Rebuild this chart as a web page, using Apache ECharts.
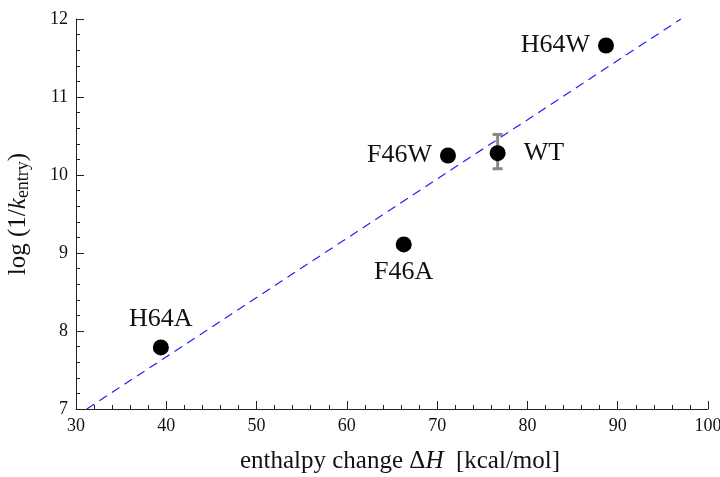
<!DOCTYPE html>
<html>
<head>
<meta charset="utf-8">
<script src="https://cdn.jsdelivr.net/npm/echarts@6/dist/echarts.min.js"></script>
<style>
  html, body { margin: 0; padding: 0; background: #fff; }
  #chart { width: 720px; height: 477px; }
</style>
</head>
<body>
<div id="chart"></div>
<script>
// mutants, enthalpy change (kcal/mol) and log(1/k_entry)
var names = ["H64A", "F46A", "F46W", "WT", "H64W"];
var deltaH = [39.4, 66.3, 71.2, 76.7, 88.7];
var logK = [7.79, 9.11, 10.25, 10.28, 11.66];

// error bar on WT only
var errName = ["WT"];
var errLow = [10.08];
var errHigh = [10.52];

// fitted dashed line endpoints
var fitX = [31.2, 97.0];
var fitY = [7.0, 12.0];

var serif = "Liberation Serif";
var labelPos = { H64A: "top", F46A: "bottom", F46W: "left", WT: "right", H64W: "left" };
var labelDist = { H64A: 7, F46A: 7, F46W: 8, WT: 18, H64W: 8 };

var chart = echarts.init(document.getElementById("chart"));

var pts = names.map(function (n, i) {
  return {
    value: [deltaH[i], logK[i]],
    name: n,
    label: { position: labelPos[n], distance: labelDist[n] }
  };
});

var errData = errName.map(function (n, j) {
  var i = names.indexOf(n);
  return [deltaH[i], errLow[j], errHigh[j]];
});

var option = {
  animation: false,
  grid: { left: 76, right: 12, top: 19, bottom: 68, outerBoundsMode: "none", containLabel: false },
  xAxis: {
    type: "value",
    min: 30,
    max: 100,
    interval: 10,
    name: "{a|enthalpy change Δ}{i|H}{a|  [kcal/mol]}",
    nameLocation: "middle",
    nameGap: 40,
    nameTextStyle: {
      padding: [0, 0, 0, 16],
      rich: {
        a: { fontFamily: serif, fontSize: 25, color: "#111" },
        i: { fontFamily: serif, fontSize: 25, fontStyle: "italic", color: "#111" }
      }
    },
    axisLine: { lineStyle: { color: "#222", width: 1 } },
    axisTick: { inside: true, length: 8, lineStyle: { color: "#222" } },
    minorTick: { show: true, splitNumber: 5, length: 4, lineStyle: { color: "#222" } },
    splitLine: { show: false },
    axisLabel: { fontFamily: serif, fontSize: 18, color: "#111", margin: 8 }
  },
  yAxis: {
    type: "value",
    min: 7,
    max: 12,
    interval: 1,
    name: "{a|log (1/}{i|k}{s|entry}{a|)}",
    nameLocation: "middle",
    nameRotate: 90,
    nameGap: 44,
    nameTextStyle: {
      rich: {
        a: { fontFamily: serif, fontSize: 25, color: "#111" },
        i: { fontFamily: serif, fontSize: 25, fontStyle: "italic", color: "#111" },
        s: { fontFamily: serif, fontSize: 18, color: "#111", padding: [10, 0, 0, 0] }
      }
    },
    axisLine: { show: true, lineStyle: { color: "#222", width: 1 } },
    axisTick: { show: true, inside: true, length: 8, lineStyle: { color: "#222" } },
    minorTick: { show: true, splitNumber: 5, length: 4, lineStyle: { color: "#222" } },
    splitLine: { show: false },
    axisLabel: { fontFamily: serif, fontSize: 18, color: "#111", margin: 8 }
  },
  series: [
    {
      type: "line",
      data: fitX.map(function (x, i) { return [x, fitY[i]]; }),
      symbol: "none",
      lineStyle: { color: "#2020ff", width: 1.2, type: [9, 6] },
      z: 1
    },
    {
      type: "custom",
      data: errData,
      renderItem: function (params, api) {
        var top = api.coord([api.value(0), api.value(2)]);
        var bot = api.coord([api.value(0), api.value(1)]);
        var w = 5;
        var st = { stroke: "#888", lineWidth: 3 };
        return {
          type: "group",
          children: [
            { type: "line", shape: { x1: top[0], y1: top[1], x2: bot[0], y2: bot[1] }, style: st },
            { type: "line", shape: { x1: top[0] - w, y1: top[1], x2: top[0] + w, y2: top[1] }, style: st },
            { type: "line", shape: { x1: bot[0] - w, y1: bot[1], x2: bot[0] + w, y2: bot[1] }, style: st }
          ]
        };
      },
      z: 2
    },
    {
      type: "scatter",
      data: pts,
      symbolSize: 16,
      itemStyle: { color: "#000", opacity: 1 },
      label: {
        show: true,
        formatter: "{b}",
        fontFamily: serif,
        fontSize: 26,
        color: "#111"
      },
      z: 3
    }
  ]
};

chart.setOption(option);
</script>
</body>
</html>
